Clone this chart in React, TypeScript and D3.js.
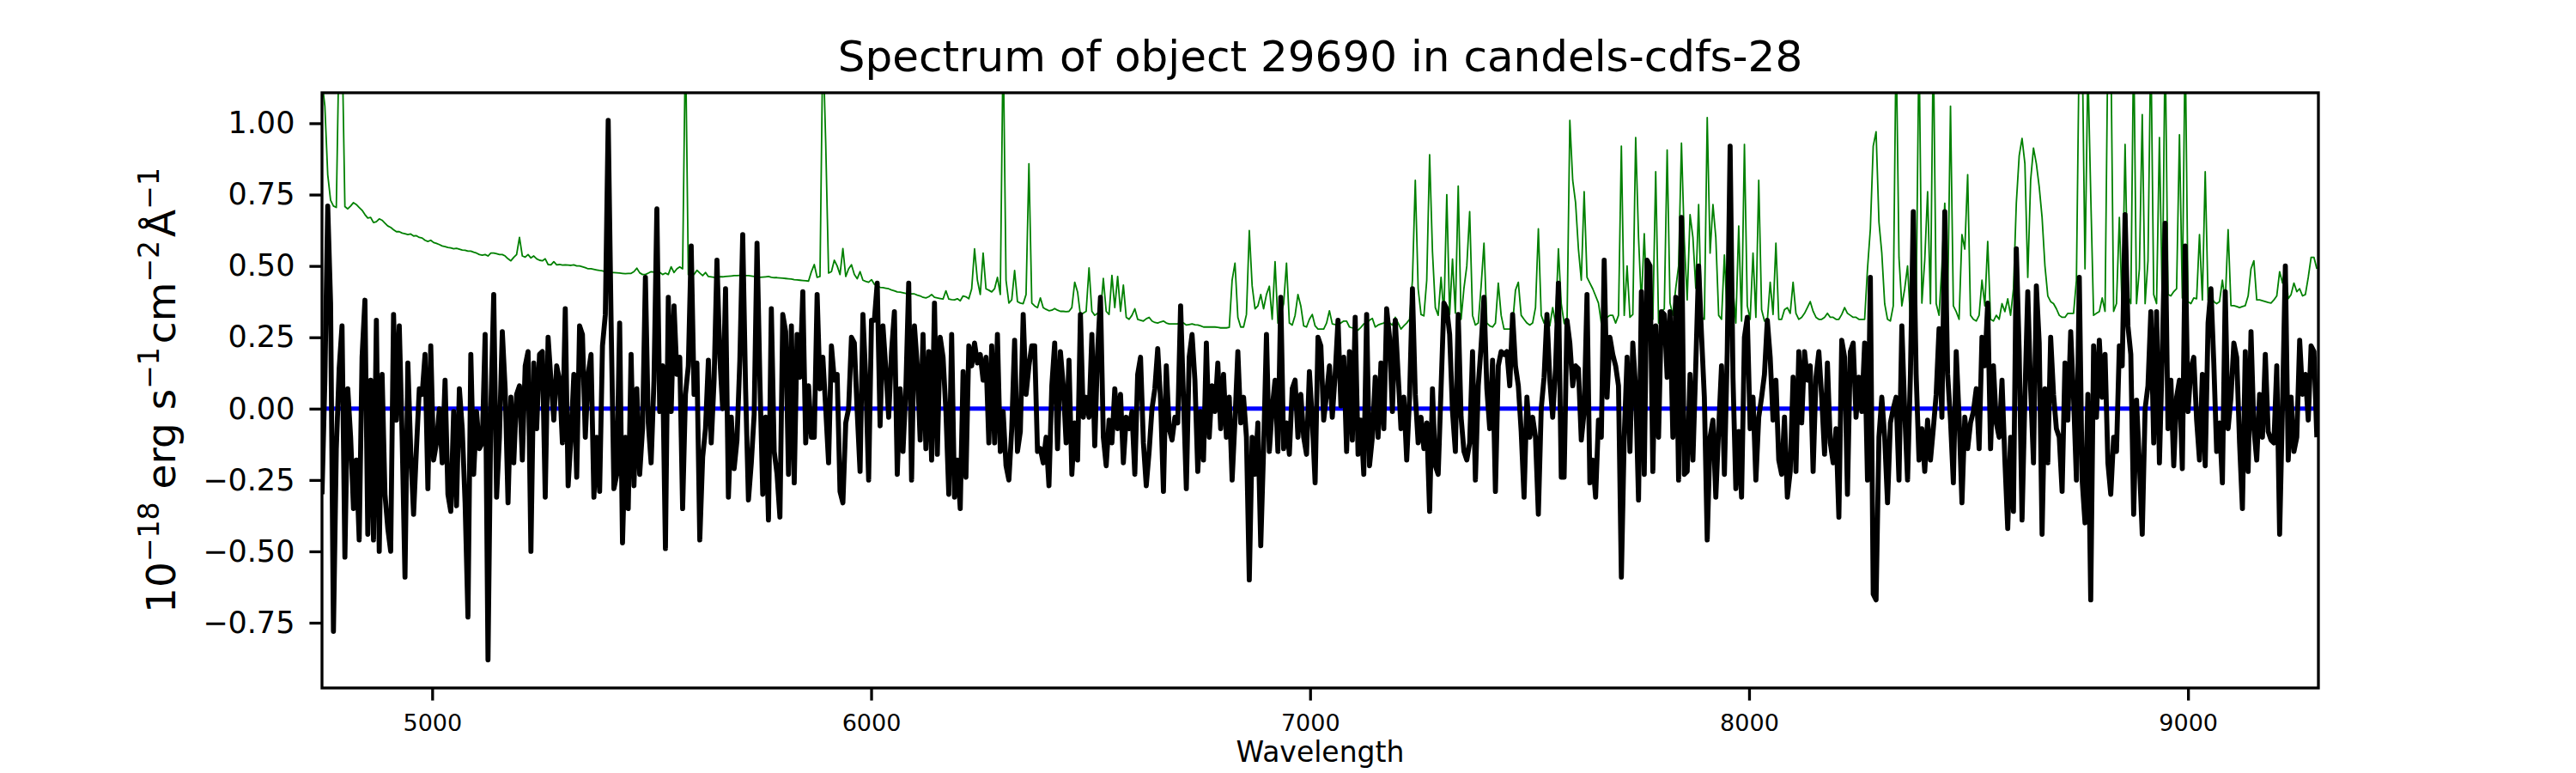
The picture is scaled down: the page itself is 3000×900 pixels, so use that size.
import { useEffect, useRef } from "react";
import * as d3 from "d3";

const W = 3000;
const H = 900;
const M = { top: 108, right: 300, bottom: 99, left: 375 };
const FONT = "DejaVu Sans, Liberation Sans, sans-serif";

// resampled wavelength grid (Angstrom)
const WAVE_START = 4749;
const WAVE_STEP = 6.52;

const X_DOMAIN: [number, number] = [4749, 9297];
const Y_DOMAIN: [number, number] = [-0.9786, 1.1068];
const X_TICKS = [5000, 6000, 7000, 8000, 9000];
const Y_TICKS = [-0.75, -0.5, -0.25, 0, 0.25, 0.5, 0.75, 1.0];

// object flux, 1e-18 erg/s/cm2/A
const flux = [
  -0.30, 0.10, 0.71, 0.37, -0.78, -0.14, 0.14, 0.29, -0.52, 0.07,
  -0.10, -0.35, -0.18, -0.46, 0.18, 0.38, -0.44, 0.10, -0.46, 0.31,
  -0.50, 0.12, -0.30, -0.42, -0.50, 0.33, -0.04, 0.29, -0.10, -0.59,
  0.16, -0.15, -0.37, -0.14, 0.07, 0.05, 0.19, -0.28, 0.22, -0.18,
  -0.12, 0.00, -0.19, 0.10, -0.30, -0.36, -0.01, -0.34, 0.07, -0.07,
  -0.33, -0.73, 0.19, -0.23, -0.01, -0.14, -0.12, 0.26, -0.88, 0.00,
  0.40, -0.31, -0.10, 0.27, 0.07, -0.33, 0.04, -0.19, 0.05, 0.08,
  -0.18, 0.15, 0.20, -0.50, 0.16, -0.07, 0.19, 0.20, -0.31, 0.25,
  0.10, -0.04, 0.15, 0.10, -0.12, 0.35, -0.27, -0.10, 0.12, -0.24,
  0.29, 0.26, -0.10, 0.12, 0.19, -0.31, -0.10, -0.29, 0.22, 0.33,
  1.01, 0.31, -0.28, -0.23, 0.30, -0.47, -0.10, -0.35, 0.19, -0.27,
  0.07, -0.23, -0.07, 0.46, -0.05, -0.19, 0.10, 0.70, -0.01, 0.15,
  -0.49, 0.39, -0.01, 0.36, 0.12, 0.18, -0.35, 0.05, 0.15, 0.57,
  0.05, 0.16, -0.46, -0.17, -0.07, 0.17, -0.12, 0.10, 0.52, 0.18,
  0.00, 0.42, -0.31, -0.03, -0.21, -0.11, 0.17, 0.61, 0.07, -0.32,
  -0.19, -0.02, 0.58, 0.10, -0.30, -0.03, -0.39, 0.35, -0.15, -0.23,
  -0.38, 0.33, 0.27, -0.23, 0.29, -0.26, 0.26, 0.11, 0.41, -0.12,
  0.08, -0.10, -0.10, 0.40, 0.07, 0.18, 0.00, -0.19, 0.22, 0.10,
  0.12, -0.29, -0.33, -0.05, 0.00, 0.25, 0.23, -0.01, -0.22, 0.33,
  0.10, -0.25, 0.31, 0.31, 0.44, -0.06, 0.29, 0.14, -0.03, 0.20,
  0.34, -0.23, 0.07, -0.15, 0.07, 0.44, -0.25, 0.29, 0.15, -0.11,
  0.26, -0.14, 0.20, -0.18, 0.37, -0.16, 0.25, 0.18, -0.01, -0.30,
  0.26, -0.31, -0.18, -0.35, 0.13, -0.24, 0.22, 0.15, 0.23, 0.16,
  0.19, 0.10, 0.18, -0.12, 0.22, -0.12, 0.26, -0.15, -0.01, -0.20,
  -0.25, -0.07, 0.24, -0.15, -0.08, 0.33, 0.05, 0.15, 0.22, 0.22,
  -0.15, -0.14, -0.19, -0.10, -0.27, 0.08, 0.23, -0.14, 0.20, 0.08,
  -0.12, 0.17, -0.23, -0.05, -0.18, 0.33, -0.03, 0.04, -0.03, 0.26,
  -0.13, 0.20, 0.39, -0.10, -0.20, -0.04, -0.12, 0.07, -0.07, 0.05,
  -0.19, -0.03, -0.07, -0.01, -0.23, 0.12, 0.18, -0.12, -0.27, -0.15,
  0.00, 0.07, 0.21, 0.03, -0.29, 0.15, -0.07, -0.11, -0.03, -0.05,
  0.36, 0.04, -0.28, 0.18, 0.26, 0.10, -0.22, -0.01, -0.18, 0.23,
  -0.10, 0.08, -0.01, 0.16, -0.07, 0.12, -0.10, 0.04, -0.25, -0.04,
  0.20, -0.05, 0.04, -0.10, -0.60, -0.10, -0.23, -0.05, -0.48, -0.14,
  0.26, -0.15, 0.00, 0.10, -0.15, 0.39, -0.14, -0.05, -0.16, 0.07,
  0.10, -0.10, 0.05, -0.10, -0.16, 0.13, -0.04, -0.26, 0.25, 0.22,
  -0.04, 0.05, 0.15, -0.03, 0.12, 0.31, 0.01, 0.18, -0.15, 0.20,
  -0.11, 0.32, -0.16, -0.04, -0.23, 0.33, -0.20, -0.10, 0.11, -0.10,
  0.16, -0.07, 0.35, 0.25, -0.01, 0.31, 0.12, -0.07, 0.04, -0.18,
  0.04, 0.42, 0.05, -0.12, -0.03, -0.14, -0.05, -0.36, 0.07, -0.20,
  -0.23, 0.07, 0.37, 0.35, 0.26, -0.01, -0.15, 0.33, -0.03, -0.15,
  -0.18, -0.12, 0.20, -0.25, 0.08, 0.22, 0.39, 0.07, -0.07, 0.17,
  -0.29, 0.15, 0.20, 0.19, 0.20, 0.08, 0.33, 0.15, 0.08, -0.08,
  -0.31, 0.04, -0.10, -0.03, -0.10, -0.37, 0.00, 0.11, 0.33, 0.10,
  -0.03, 0.14, 0.44, -0.24, -0.24, 0.31, 0.23, 0.08, 0.15, 0.14,
  -0.11, -0.01, 0.40, -0.26, -0.18, -0.31, -0.04, -0.10, 0.52, 0.04,
  0.25, 0.19, 0.15, 0.08, -0.59, -0.10, 0.18, -0.15, 0.23, 0.07,
  -0.32, 0.41, -0.23, 0.52, 0.50, -0.22, 0.29, -0.10, 0.34, 0.33,
  0.11, 0.34, -0.10, 0.39, -0.25, 0.67, -0.23, -0.22, 0.12, -0.18,
  0.15, 0.50, 0.26, 0.04, -0.46, -0.10, -0.04, -0.31, -0.07, 0.15,
  -0.23, 0.20, 0.92, 0.11, -0.28, -0.08, -0.31, 0.25, 0.32, -0.07,
  0.04, -0.25, -0.03, 0.04, 0.12, 0.31, 0.18, -0.04, 0.10, -0.18,
  -0.23, -0.03, -0.31, -0.22, 0.11, -0.22, 0.20, -0.05, 0.20, 0.10,
  0.15, -0.22, 0.11, 0.20, 0.04, -0.16, 0.16, -0.12, -0.19, -0.07,
  -0.38, 0.24, 0.18, -0.30, 0.20, 0.23, -0.03, 0.11, -0.01, 0.23,
  -0.25, 0.46, -0.65, -0.67, -0.10, 0.04, -0.10, -0.33, -0.05, 0.00,
  0.04, -0.25, 0.29, -0.01, -0.25, 0.12, 0.69, 0.12, -0.18, -0.07,
  -0.22, -0.04, -0.18, -0.07, 0.05, 0.28, -0.03, 0.69, 0.12, -0.04,
  -0.26, 0.20, -0.03, -0.33, -0.03, -0.14, -0.05, -0.01, 0.07, -0.14,
  0.25, 0.15, 0.37, -0.14, 0.15, -0.05, -0.10, 0.10, -0.18, -0.42,
  -0.10, -0.36, 0.56, 0.20, -0.39, 0.04, 0.41, 0.07, -0.19, 0.43,
  0.23, -0.44, 0.07, -0.19, 0.25, 0.05, -0.07, -0.10, -0.29, 0.16,
  -0.04, 0.27, 0.04, -0.25, 0.46, -0.25, -0.40, 0.05, -0.67, 0.22,
  -0.03, 0.24, 0.04, 0.19, -0.19, -0.30, -0.10, -0.15, 0.22, 0.15,
  0.68, 0.29, 0.19, -0.37, 0.03, -0.19, -0.44, 0.00, 0.08, 0.34,
  -0.12, 0.34, -0.19, 0.19, 0.65, -0.07, 0.10, -0.20, 0.04, 0.10,
  -0.21, 0.57, -0.01, 0.14, 0.18, -0.04, -0.18, 0.12, -0.20, 0.30,
  0.42, 0.16, -0.15, -0.05, -0.26, 0.41, -0.07, 0.04, 0.23, 0.18,
  -0.12, -0.35, 0.20, -0.22, 0.27, -0.07, -0.18, 0.05, -0.10, 0.19,
  -0.08, -0.11, -0.12, 0.15, -0.44, 0.01, 0.50, -0.18, 0.04, -0.15,
  -0.10, 0.24, 0.05, 0.12, -0.04, 0.22, 0.20, -0.10,
];

// sky / noise spectrum, same units and grid
const sky = [
  1.15, 1.06, 0.82, 0.73, 0.71, 0.705, 1.3, 1.3, 0.708, 0.70,
  0.71, 0.722, 0.715, 0.705, 0.695, 0.68, 0.668, 0.67, 0.652, 0.655,
  0.665, 0.66, 0.65, 0.64, 0.635, 0.627, 0.62, 0.62, 0.615, 0.613,
  0.61, 0.612, 0.605, 0.606, 0.60, 0.598, 0.59, 0.586, 0.59, 0.582,
  0.579, 0.575, 0.57, 0.568, 0.565, 0.563, 0.56, 0.562, 0.559, 0.556,
  0.555, 0.552, 0.552, 0.548, 0.545, 0.54, 0.538, 0.54, 0.535, 0.545,
  0.545, 0.543, 0.54, 0.54, 0.535, 0.525, 0.518, 0.53, 0.54, 0.60,
  0.535, 0.531, 0.54, 0.528, 0.535, 0.525, 0.52, 0.518, 0.525, 0.505,
  0.504, 0.515, 0.504, 0.505, 0.503, 0.504, 0.503, 0.502, 0.504, 0.50,
  0.50, 0.497, 0.494, 0.49, 0.49, 0.488, 0.486, 0.484, 0.483, 0.48,
  0.478, 0.477, 0.477, 0.476, 0.475, 0.474, 0.473, 0.474, 0.474, 0.48,
  0.492, 0.476, 0.47, 0.47, 0.475, 0.48, 0.478, 0.48, 0.478, 0.47,
  0.475, 0.47, 0.497, 0.477, 0.49, 0.497, 0.49, 1.3, 0.47, 0.475,
  0.47, 0.485, 0.475, 0.466, 0.477, 0.463, 0.462, 0.46, 0.461, 0.462,
  0.462, 0.463, 0.464, 0.465, 0.466, 0.466, 0.467, 0.467, 0.466, 0.466,
  0.465, 0.463, 0.461, 0.46, 0.461, 0.462, 0.463, 0.46, 0.459, 0.459,
  0.458, 0.457, 0.456, 0.455, 0.454, 0.452, 0.451, 0.45, 0.449, 0.448,
  0.447, 0.48, 0.505, 0.46, 0.463, 1.3, 0.93, 0.475, 0.48, 0.52,
  0.50, 0.47, 0.561, 0.463, 0.49, 0.504, 0.47, 0.455, 0.48, 0.45,
  0.446, 0.443, 0.452, 0.436, 0.43, 0.425, 0.424, 0.422, 0.42, 0.416,
  0.413, 0.409, 0.408, 0.406, 0.404, 0.402, 0.402, 0.402, 0.398, 0.395,
  0.39, 0.388, 0.392, 0.40, 0.39, 0.388, 0.386, 0.384, 0.413, 0.384,
  0.382, 0.381, 0.385, 0.378, 0.395, 0.392, 0.385, 0.42, 0.56, 0.45,
  0.40, 0.545, 0.42, 0.415, 0.409, 0.42, 0.46, 0.40, 1.3, 0.45,
  0.37, 0.381, 0.484, 0.375, 0.37, 0.368, 0.40, 0.858, 0.37, 0.36,
  0.354, 0.388, 0.354, 0.348, 0.343, 0.345, 0.351, 0.345, 0.341, 0.341,
  0.34, 0.341, 0.354, 0.443, 0.409, 0.327, 0.335, 0.341, 0.493, 0.341,
  0.327, 0.334, 0.334, 0.456, 0.341, 0.33, 0.467, 0.354, 0.463, 0.341,
  0.433, 0.32, 0.313, 0.327, 0.35, 0.313, 0.31, 0.307, 0.315, 0.32,
  0.307, 0.302, 0.30, 0.304, 0.307, 0.30, 0.297, 0.297, 0.297, 0.297,
  0.305, 0.30, 0.293, 0.295, 0.297, 0.294, 0.293, 0.29, 0.286, 0.286,
  0.286, 0.286, 0.286, 0.285, 0.283, 0.283, 0.283, 0.285, 0.45, 0.51,
  0.32, 0.286, 0.286, 0.33, 0.624, 0.43, 0.35, 0.36, 0.40, 0.35,
  0.40, 0.429, 0.313, 0.515, 0.30, 0.327, 0.368, 0.51, 0.30, 0.293,
  0.327, 0.40, 0.36, 0.29, 0.286, 0.313, 0.33, 0.29, 0.279, 0.279,
  0.279, 0.30, 0.343, 0.297, 0.295, 0.293, 0.30, 0.307, 0.307, 0.286,
  0.283, 0.279, 0.275, 0.285, 0.297, 0.30, 0.31, 0.316, 0.286, 0.293,
  0.297, 0.30, 0.31, 0.30, 0.293, 0.32, 0.30, 0.279, 0.29, 0.30,
  0.313, 0.45, 0.80, 0.42, 0.33, 0.325, 0.45, 0.89, 0.55, 0.354,
  0.327, 0.46, 0.33, 0.75, 0.33, 0.524, 0.335, 0.78, 0.313, 0.422,
  0.50, 0.69, 0.327, 0.293, 0.30, 0.429, 0.58, 0.30, 0.29, 0.286,
  0.30, 0.44, 0.327, 0.279, 0.279, 0.279, 0.297, 0.415, 0.443, 0.327,
  0.313, 0.30, 0.293, 0.30, 0.354, 0.63, 0.327, 0.30, 0.327, 0.29,
  0.354, 0.30, 0.56, 0.368, 0.30, 0.286, 1.01, 0.80, 0.722, 0.559,
  0.45, 0.76, 0.46, 0.44, 0.42, 0.395, 0.37, 0.30, 0.307, 0.32,
  0.327, 0.327, 0.30, 0.327, 0.92, 0.327, 0.50, 0.32, 0.33, 0.95,
  0.60, 0.368, 0.613, 0.347, 0.313, 0.313, 0.83, 0.30, 0.34, 0.35,
  0.906, 0.37, 0.327, 0.422, 0.50, 0.93, 0.586, 0.381, 0.68, 0.60,
  0.422, 0.715, 0.32, 0.313, 1.02, 0.545, 0.715, 0.60, 0.327, 0.313,
  0.538, 0.313, 0.307, 0.422, 0.30, 0.64, 0.307, 0.926, 0.36, 0.313,
  0.545, 0.32, 0.80, 0.347, 0.307, 0.307, 0.443, 0.33, 0.58, 0.313,
  0.313, 0.347, 0.354, 0.334, 0.443, 0.334, 0.313, 0.32, 0.334, 0.354,
  0.375, 0.341, 0.32, 0.313, 0.313, 0.32, 0.334, 0.32, 0.32, 0.313,
  0.313, 0.33, 0.354, 0.334, 0.327, 0.32, 0.32, 0.313, 0.313, 0.313,
  0.49, 0.63, 0.92, 0.97, 0.654, 0.545, 0.368, 0.313, 0.307, 0.36,
  1.3, 0.53, 0.36, 0.42, 0.50, 0.313, 0.334, 0.368, 1.3, 0.37,
  0.52, 0.76, 0.368, 1.3, 0.368, 0.327, 0.50, 0.72, 0.36, 1.06,
  0.36, 0.34, 0.313, 0.61, 0.559, 0.82, 0.327, 0.313, 0.307, 0.327,
  0.45, 0.36, 0.586, 0.313, 0.307, 0.327, 0.313, 0.368, 0.34, 0.385,
  0.327, 0.42, 0.72, 0.886, 0.947, 0.858, 0.46, 0.80, 0.913, 0.858,
  0.777, 0.67, 0.50, 0.395, 0.375, 0.368, 0.35, 0.327, 0.32, 0.32,
  0.334, 0.334, 0.334, 0.45, 1.3, 1.3, 0.49, 1.2, 0.75, 0.327,
  0.334, 0.34, 0.388, 0.341, 1.3, 1.3, 0.341, 0.368, 0.67, 0.34,
  0.926, 0.395, 0.368, 1.3, 0.368, 0.49, 1.03, 0.368, 0.518, 1.3,
  0.40, 0.368, 0.95, 0.368, 1.3, 0.40, 0.395, 0.41, 0.42, 0.96,
  0.388, 1.3, 0.375, 0.368, 0.388, 0.385, 0.61, 0.381, 0.83, 0.381,
  0.395, 0.375, 0.368, 0.375, 0.45, 0.375, 0.627, 0.361, 0.361, 0.358,
  0.354, 0.358, 0.361, 0.395, 0.49, 0.518, 0.381, 0.381, 0.378, 0.375,
  0.372, 0.37, 0.381, 0.395, 0.48, 0.44, 0.50, 0.385, 0.40, 0.44,
  0.41, 0.42, 0.395, 0.40, 0.46, 0.53, 0.53, 0.49,
];

const ZERO_LEVEL = 0;

export default function App() {
  const svgRef = useRef<SVGSVGElement>(null);

  useEffect(() => {
    if (!svgRef.current) return;
    const svg = d3.select(svgRef.current);
    svg.selectAll("*").remove();

    const x = d3.scaleLinear().domain(X_DOMAIN).range([M.left, W - M.right]);
    const y = d3.scaleLinear().domain(Y_DOMAIN).range([H - M.bottom, M.top]);
    const wave = (i: number) => WAVE_START + i * WAVE_STEP;

    svg.append("rect").attr("width", W).attr("height", H).attr("fill", "#fff");

    svg
      .append("defs")
      .append("clipPath")
      .attr("id", "plot-clip")
      .append("rect")
      .attr("x", M.left)
      .attr("y", M.top)
      .attr("width", W - M.left - M.right)
      .attr("height", H - M.top - M.bottom);

    const plot = svg.append("g").attr("clip-path", "url(#plot-clip)");

    const line = d3
      .line<number>()
      .x((_, i) => x(wave(i)))
      .y((d) => y(d));

    // zero level
    plot
      .append("line")
      .attr("x1", x(wave(0)))
      .attr("x2", x(wave(flux.length - 1)))
      .attr("y1", y(ZERO_LEVEL))
      .attr("y2", y(ZERO_LEVEL))
      .attr("stroke", "#0000ff")
      .attr("stroke-width", 5);

    plot
      .append("path")
      .datum(sky)
      .attr("d", line)
      .attr("fill", "none")
      .attr("stroke", "#008000")
      .attr("stroke-width", 1.8)
      .attr("stroke-linejoin", "round");

    plot
      .append("path")
      .datum(flux)
      .attr("d", line)
      .attr("fill", "none")
      .attr("stroke", "#000")
      .attr("stroke-width", 5.8)
      .attr("stroke-linejoin", "round");

    // axes
    svg
      .append("g")
      .attr("transform", `translate(0,${H - M.bottom})`)
      .call(d3.axisBottom(x).tickValues(X_TICKS).tickSize(14.6).tickPadding(16).tickFormat(d3.format("d")))
      .call((g) => g.select(".domain").remove())
      .call((g) => g.selectAll("line").attr("stroke", "#000").attr("stroke-width", 3.3))
      .call((g) =>
        g.selectAll("text").attr("fill", "#000").attr("font-size", 27).attr("font-family", FONT)
      );

    svg
      .append("g")
      .attr("transform", `translate(${M.left},0)`)
      .call(d3.axisLeft(y).tickValues(Y_TICKS).tickSize(14.6).tickPadding(17).tickFormat(d3.format(".2f")))
      .call((g) => g.select(".domain").remove())
      .call((g) => g.selectAll("line").attr("stroke", "#000").attr("stroke-width", 3.3))
      .call((g) =>
        g.selectAll("text").attr("fill", "#000").attr("font-size", 35).attr("font-family", FONT)
      );

    svg
      .append("rect")
      .attr("x", M.left)
      .attr("y", M.top)
      .attr("width", W - M.left - M.right)
      .attr("height", H - M.top - M.bottom)
      .attr("fill", "none")
      .attr("stroke", "#000")
      .attr("stroke-width", 3.3);

    const cx = (M.left + W - M.right) / 2;

    svg
      .append("text")
      .attr("x", cx)
      .attr("y", 83)
      .attr("text-anchor", "middle")
      .attr("font-family", FONT)
      .attr("font-size", 50)
      .attr("fill", "#000")
      .text("Spectrum of object 29690 in candels-cdfs-28");

    svg
      .append("text")
      .attr("x", cx)
      .attr("y", 887)
      .attr("text-anchor", "middle")
      .attr("font-family", FONT)
      .attr("font-size", 33)
      .attr("fill", "#000")
      .text("Wavelength");

    // y label with superscripts
    const yl = svg
      .append("text")
      .attr("transform", `translate(204,${(M.top + H - M.bottom) / 2}) rotate(-90)`)
      .attr("text-anchor", "middle")
      .attr("font-family", FONT)
      .attr("font-size", 47)
      .attr("fill", "#000");
    const parts: [string, boolean][] = [
      ["10", false],
      ["\u221218", true],
      [" erg s", false],
      ["\u22121", true],
      ["cm", false],
      ["\u22122", true],
      ["\u00C5", false],
      ["\u22121", true],
    ];
    let up = false;
    parts.forEach(([t, sup], k) => {
      const ts = yl.append("tspan").text(t);
      if (sup) {
        ts.attr("font-size", 33).attr("dy", -19);
        up = true;
      } else {
        if (up) ts.attr("dy", 19);
        if (k > 0 && !t.startsWith(" ")) ts.attr("dx", 4);
        up = false;
      }
    });
  }, []);

  return (
    <div style={{ position: "absolute", left: 0, top: 0 }}>
      <svg ref={svgRef} width={W} height={H} viewBox={`0 0 ${W} ${H}`} />
    </div>
  );
}
